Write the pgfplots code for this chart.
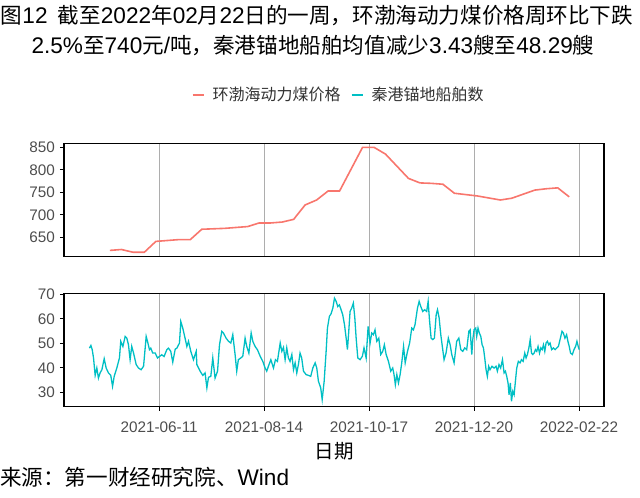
\documentclass[border=0pt]{standalone}
\usepackage{fontspec}
\setmainfont{Liberation Sans}
\newfontfamily\cjk{Noto Sans CJK SC}[Scale=0.955]
\usepackage{pgfplots}
\usepackage{pgfplotstable}
\pgfplotsset{compat=1.18}
\definecolor{cred}{HTML}{F8766D}
\definecolor{ccyan}{HTML}{00BFC4}
\definecolor{grey30}{HTML}{4D4D4D}

% x = days after 2021-06-11
\pgfplotstableread{
day price
-30 621
-23 623
-16 617
-9 617
-2 641
5 643
12 645
19 645
26 668
33 669
40 670
47 672
54 674
61 682
68 682
75 684
82 690
89 722
96 733
103 753
110 753
124 850
131 850
138 835
152 781
159 771
166 770
173 768
180 748
194 742
208 733
215 737
229 755
236 758
243 760
250 740
}\pricetab

\pgfplotstableread{
day ships
-42.5 48.0
-41.6 49.1
-40.8 47.4
-40.0 44.0
-39.0 36.9
-38.0 39.9
-37.0 35.8
-36.0 37.9
-34.9 39.2
-33.5 43.7
-32.3 39.9
-30.9 37.9
-29.5 36.9
-28.4 32.4
-27.4 36.5
-25.8 39.9
-24.2 44.0
-23.4 50.8
-22.1 48.7
-20.7 52.8
-19.7 52.1
-18.7 49.4
-17.7 43.3
-16.7 48.7
-15.6 46.0
-14.0 41.3
-12.6 39.9
-11.0 39.2
-9.5 40.6
-7.9 52.8
-7.1 50.8
-5.9 47.4
-5.1 48.0
-3.9 46.0
-2.4 46.0
-1.0 44.0
0.2 44.6
1.6 45.3
3.0 44.6
4.7 47.4
5.7 48.0
7.1 46.7
8.3 42.3
9.8 47.6
10.8 48.0
12.4 50.1
13.2 58.9
14.4 56.2
15.8 52.1
16.9 48.7
17.9 50.8
19.3 46.7
20.9 43.3
22.6 46.7
23.0 41.3
25.0 38.6
26.6 36.9
28.0 37.9
29.1 31.8
30.1 36.1
31.5 36.5
32.7 44.0
34.1 35.8
35.6 38.6
36.8 49.4
38.2 54.9
39.2 54.2
40.8 52.1
42.3 50.8
43.7 50.1
44.9 53.5
46.3 45.4
47.3 38.6
48.3 43.3
49.8 44.0
51.0 44.7
52.4 52.1
53.4 48.7
54.7 46.0
56.1 54.2
57.1 50.8
58.5 48.7
59.9 47.4
61.6 44.7
63.2 42.6
64.6 39.9
65.6 38.6
66.6 40.6
68.1 43.3
69.7 39.9
70.9 43.3
72.1 42.6
73.8 50.1
74.8 46.7
75.8 48.3
76.8 43.3
77.8 48.1
78.8 44.0
79.8 42.6
80.9 45.4
81.9 39.2
82.9 42.0
83.9 37.9
84.9 41.3
85.9 46.0
86.9 44.0
88.0 38.6
89.6 37.2
91.0 36.9
92.4 36.5
93.7 39.9
95.1 42.0
96.1 39.9
97.1 34.5
98.5 31.8
99.4 27.0
100.6 34.5
101.8 46.7
102.6 56.2
103.8 61.0
104.8 62.0
105.9 64.4
106.9 68.4
107.9 67.1
108.9 65.0
109.9 65.7
110.9 63.7
111.9 61.7
113.0 57.6
114.0 52.1
114.8 47.4
115.6 54.9
116.4 63.0
117.4 64.4
118.4 66.4
119.3 60.3
120.1 52.1
121.1 44.0
122.5 43.3
123.9 44.7
124.9 48.1
126.2 44.0
127.4 56.9
128.6 50.1
129.6 54.2
130.6 53.5
131.6 55.5
132.7 50.8
133.9 52.1
135.1 45.4
136.3 46.7
137.3 49.4
138.4 45.4
139.8 42.6
141.2 38.6
142.4 39.9
143.2 37.2
144.0 33.1
144.9 37.2
145.9 33.8
146.9 37.2
147.9 42.0
149.0 48.7
150.0 42.0
151.4 46.7
152.7 50.1
154.0 56.2
155.0 55.5
156.0 57.6
157.5 64.4
158.5 67.1
159.5 65.0
160.7 63.0
161.9 63.7
163.1 63.0
164.0 67.1
164.8 59.6
165.8 52.1
166.8 51.5
167.8 52.1
168.9 61.7
169.7 63.7
170.7 60.3
171.7 53.5
172.5 49.4
173.7 43.3
174.9 46.0
176.3 52.1
177.4 49.4
178.4 45.4
179.8 42.0
181.4 50.8
182.7 52.1
183.9 47.4
185.1 46.7
186.3 48.1
187.5 47.4
188.8 54.9
189.6 55.5
190.6 45.4
191.2 51.5
192.0 55.5
193.0 56.2
193.6 52.8
194.4 56.2
195.2 54.2
196.1 52.8
196.9 49.4
197.7 48.1
198.5 44.0
199.3 39.2
200.1 36.5
200.9 40.6
201.7 39.2
202.9 40.6
204.2 39.9
205.4 40.6
206.2 38.6
207.2 41.3
208.2 39.9
209.3 43.3
210.3 37.9
211.1 38.6
211.9 36.5
212.7 33.8
213.3 29.0
214.1 33.8
214.8 26.3
215.6 30.4
216.4 29.0
217.2 34.5
218.0 39.9
219.0 42.6
220.0 42.0
220.9 43.3
221.9 42.6
222.9 46.0
223.7 44.0
224.5 45.4
225.4 48.1
226.2 51.5
227.0 46.0
227.8 45.4
228.6 46.0
229.4 47.4
230.2 46.7
231.0 48.7
231.9 46.0
232.7 48.1
233.5 47.4
234.3 49.4
235.1 46.7
235.9 50.1
236.7 50.8
237.5 49.4
238.3 50.1
239.3 47.4
240.4 48.1
241.4 47.4
242.4 48.1
243.4 48.7
244.4 51.5
245.6 54.9
246.4 54.2
247.4 52.1
248.4 53.5
249.2 50.8
250.0 48.7
250.8 46.0
251.9 45.4
252.9 47.4
253.9 48.7
254.7 50.8
255.5 48.7
256.1 47.4
}\shiptab

\pgfplotsset{
  panel/.style={
    scale only axis, width=540bp, height=113.4bp,
    xmin=-58, xmax=271.2,
    axis line style={black, line width=1.1bp},
    xtick={0,64,128,192,256},
    xmajorgrids, major grid style={color=black!32, line width=0.8bp},
    tick align=outside, major tick length=4bp,
    tick style={black, line width=0.8bp},
    ytick pos=left,
    /pgf/number format/assume math mode=true,
    ticklabel style={font=\fontsize{15.3bp}{15bp}\selectfont, text=grey30},
    yticklabel style={xshift=-1.5bp},
  }
}

\begin{document}
\begin{tikzpicture}
\path[use as bounding box] (0,0) rectangle (640bp,-498bp);

% title
\node[anchor=center, inner sep=0] at (317bp,-16bp) {\fontsize{22.6bp}{24bp}\selectfont{\cjk 图}12\hspace{0.45em}{\cjk 截至}2022{\cjk 年}02{\cjk 月}22{\cjk 日的一周，环渤海动力煤价格周环比下跌}};
\node[anchor=center, inner sep=0] at (313bp,-46bp) {\fontsize{22.6bp}{24bp}\selectfont 2.5\%{\cjk 至}740{\cjk 元}/{\cjk 吨，秦港锚地船舶均值减少}3.43{\cjk 艘至}48.29{\cjk 艘}};

\begin{axis}[panel, at={(64bp,-256.7bp)}, anchor=south west,
  ymin=607, ymax=859, ytick={650,700,750,800,850},
  xticklabels={}, xtick style={draw=none},
  legend style={at={(axis description cs:0.5085,1.426)}, anchor=center,
    draw=none, fill=none, legend columns=2,
    font=\fontsize{16.75bp}{18bp}\selectfont, text=black!80,
    /tikz/every even column/.append style={column sep=8bp},
    /tikz/every odd column/.append style={column sep=6bp}},
  legend image code/.code={\draw[#1, line width=2bp] (0bp,0bp) -- (11bp,0bp);},
]
\addplot[cred, line width=1.6bp] table[x=day, y=price] {\pricetab};
\addlegendentry{{\cjk 环渤海动力煤价格}}
\addlegendimage{ccyan}
\addlegendentry{{\cjk 秦港锚地船舶数}}
\end{axis}

\begin{axis}[panel, at={(64bp,-406.7bp)}, anchor=south west,
  ymin=24.1, ymax=70.4, ytick={30,40,50,60,70},
  xtick pos=bottom,
  xticklabel style={yshift=-8bp},
  xticklabels={2021-06-11,2021-08-14,2021-10-17,2021-12-20,2022-02-22},
]
\addplot[ccyan, line width=1.3bp] table[x=day, y=ships] {\shiptab};
\end{axis}

\node[anchor=center, inner sep=0] at (334bp,-451bp) {\fontsize{20.4bp}{22bp}\selectfont\cjk 日期};
\node[anchor=west, inner sep=0] at (0bp,-477bp) {\fontsize{22.6bp}{24bp}\selectfont{\cjk 来源：第一财经研究院、}Wind};
\end{tikzpicture}
\end{document}
